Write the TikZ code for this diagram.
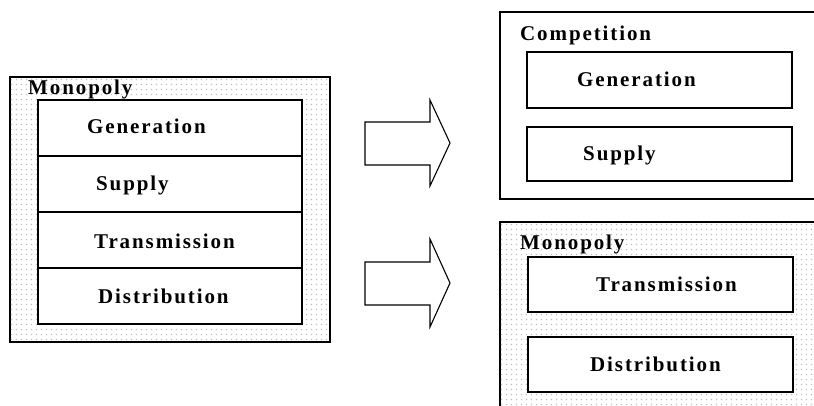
\documentclass[tikz,border=0pt]{standalone}
\usepackage{fontspec}
\setmainfont{Liberation Serif}
\newfontfamily\spacedserif[LetterSpace=9]{Liberation Serif}
\usetikzlibrary{patterns.meta}

% grey stipple used for the monopoly blocks
\tikzdeclarepattern{
  name=stipple,
  type=uncolored,
  tile size={(5pt,5pt)},
  bottom left={(0pt,0pt)},
  top right={(5pt,5pt)},
  code={\fill (1pt,1pt) rectangle (2.4pt,2.4pt);}
}

\tikzset{
  outerplain/.style={draw=black, line width=1.1pt, fill=white},
  outerdotted/.style={draw=black, line width=1.1pt, fill=white,
    postaction={pattern=stipple, pattern color=gray!50}},
  innerbox/.style={draw=black, line width=1.4pt, fill=white},
  blockarrow/.style={draw=black, line width=1.1pt, fill=white, line join=miter},
  lbl/.style={anchor=base west, inner sep=0pt,
    font=\spacedserif\bfseries\fontsize{21}{24}\selectfont}
}

\begin{document}
\begin{tikzpicture}[x=1pt, y=-1pt]
  \useasboundingbox (0,0) rectangle (814,405);
  \clip (0,0) rectangle (814,405);
  \fill[white] (0,0) rectangle (814,405);

  % vertically integrated utility
  \path[outerdotted] (10,77) rectangle (330,342);
  \path[innerbox] (38,100) rectangle (302,156);
  \path[innerbox] (38,156) rectangle (302,212);
  \path[innerbox] (38,212) rectangle (302,268);
  \path[innerbox] (38,268) rectangle (302,324);
  \node[lbl] (mono1) at (28,94) {Monopoly};
  \node[lbl] (gen1)  at (87,133) {Generation};
  \node[lbl] (sup1)  at (96,190) {Supply};
  \node[lbl] (tra1)  at (94,248) {Transmission};
  \node[lbl] (dis1)  at (98,303) {Distribution};

  % unbundling arrows
  \path[blockarrow] (365,122) -- (430,122) -- (430,100) -- (450,143)
    -- (430,186) -- (430,165) -- (365,165) -- cycle;
  \path[blockarrow] (365,262) -- (430,262) -- (430,239) -- (450,283)
    -- (430,327) -- (430,305) -- (365,305) -- cycle;

  % competitive segment
  \path[outerplain] (500,12) rectangle (830,199);
  \path[innerbox] (527,52) rectangle (792,108);
  \path[innerbox] (527,127) rectangle (792,181);
  \node[lbl] (comp) at (520,40)  {Competition};
  \node[lbl] (gen2) at (577,86)  {Generation};
  \node[lbl] (sup2) at (583,160) {Supply};

  % regulated network segment
  \path[outerdotted] (500,222) rectangle (830,420);
  \path[innerbox] (528,257) rectangle (793,312);
  \path[innerbox] (528,337) rectangle (793,392);
  \node[lbl] (mono2) at (520,249) {Monopoly};
  \node[lbl] (tra2)  at (596,291) {Transmission};
  \node[lbl] (dis2)  at (590,371) {Distribution};
\end{tikzpicture}
\end{document}
